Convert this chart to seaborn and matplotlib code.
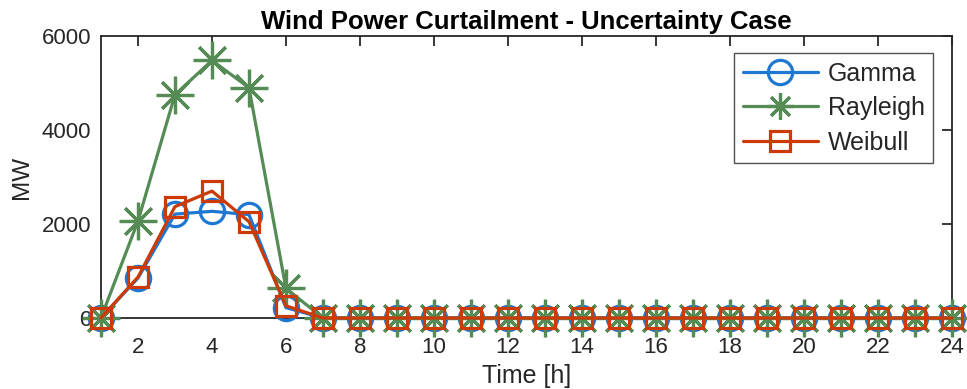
import matplotlib
matplotlib.use("Agg")
import matplotlib.pyplot as plt
import seaborn as sns
import pandas as pd

# Hourly wind power curtailment (MW) for each wind speed distribution
hours = list(range(1, 25))
gamma = [0, 850, 2210, 2270, 2200, 220] + [0] * 18
rayleigh = [0, 2060, 4750, 5480, 4900, 630] + [0] * 18
weibull = [0, 870, 2370, 2700, 2050, 260] + [0] * 18

series_names = ["Gamma", "Rayleigh", "Weibull"]
series_values = [gamma, rayleigh, weibull]
colors = ["#1E78D2", "#558B55", "#CC3A06"]
markers = ["o", (8, 2, 0), "s"]
marker_sizes = [17.5, 27, 15]
legend_marker_sizes = [17.5, 19, 15]

x_ticks = list(range(2, 25, 2))
y_ticks = [0, 2000, 4000, 6000]

sns.set_theme(style="white")
plt.rcParams["font.family"] = ["Liberation Sans", "DejaVu Sans"]

fig = plt.figure(figsize=(9.67, 3.89), dpi=100)
ax = fig.add_axes([0.1044, 0.1825, 0.8801, 0.725])

for name, vals, col, mk, ms in zip(series_names, series_values, colors, markers, marker_sizes):
    df = pd.DataFrame({"Time": hours, "MW": vals})
    sns.lineplot(data=df, x="Time", y="MW", ax=ax, color=col, linewidth=2.3,
                 marker=mk, markersize=ms, markeredgewidth=2.3,
                 markerfacecolor="none", markeredgecolor=col, label=name,
                 clip_on=False, zorder=3)

ax.set_xlim(1, 24)
ax.set_ylim(0, 6000)
ax.set_xticks(x_ticks)
ax.set_yticks(y_ticks)
ax.tick_params(direction="in", length=7, width=1.3, top=True, right=True,
               labelsize=16, colors="#262626")
ax.tick_params(axis="x", pad=14)
ax.tick_params(axis="y", pad=7)
for sp in ax.spines.values():
    sp.set_visible(True)
    sp.set_color("#262626")
    sp.set_linewidth(1.3)
    sp.set_zorder(2)

ax.set_title("Wind Power Curtailment - Uncertainty Case", fontsize=18.5,
             fontweight="bold", color="black", pad=5)
ax.set_xlabel("Time [h]", fontsize=18, color="#262626", labelpad=4)
ax.set_ylabel("MW", fontsize=17.5, color="#262626", labelpad=6)

leg = ax.legend(loc="upper right", bbox_to_anchor=(0.978, 0.94), fontsize=18,
                frameon=True, fancybox=False, edgecolor="#262626",
                handlelength=3.0, borderpad=0.35, labelspacing=0.42,
                handletextpad=0.4, borderaxespad=0)
leg.get_frame().set_linewidth(1.0)
for h, ms in zip(leg.legend_handles, legend_marker_sizes):
    h.set_markersize(ms)

fig.savefig("out.png", dpi=100)
